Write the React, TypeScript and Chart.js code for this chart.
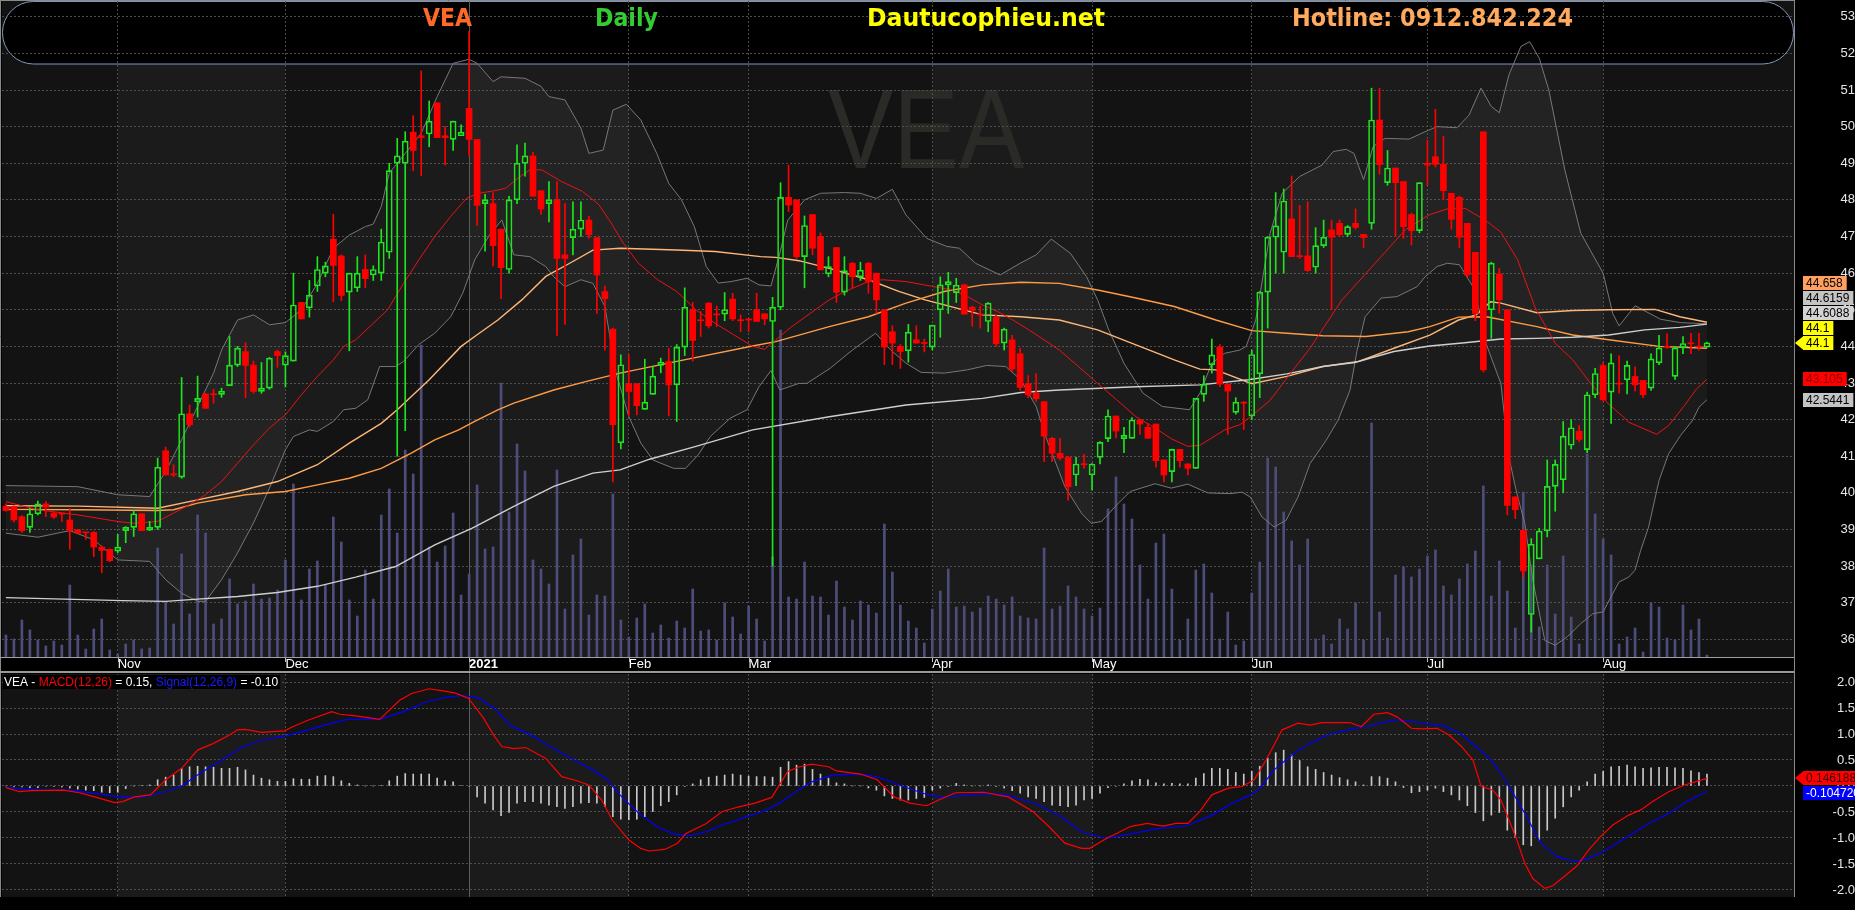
import React, { useEffect, useRef } from "react";
import { Chart, registerables } from "chart.js";

Chart.register(...registerables);

// ---------------- DATA ----------------
// daily candles, index 0 = 13 Oct 2020 ... index 213 = 19 Aug 2021
const openP = [
  39.63, 39.63, 39.35, 39.06, 39.43, 39.70, 39.45, 39.45, 39.26, 38.99,
  38.93, 38.92, 38.52, 38.46, 38.41, 38.97, 39.06, 39.43, 38.98, 39.06,
  41.15, 40.52, 40.43, 42.16, 42.49, 42.70, 42.70, 42.69, 42.93, 43.49,
  43.86, 43.49, 42.77, 42.86, 43.86, 43.49, 43.60, 45.20, 45.05, 45.65,
  46.00, 46.93, 46.47, 45.48, 45.60, 46.10, 45.95, 46.00, 46.57, 49.00,
  49.00, 49.85, 49.75, 49.80, 50.65, 49.75, 49.65, 49.75, 50.50, 49.65,
  47.90, 47.90, 47.20, 46.10, 48.00, 49.00, 49.20, 48.25, 47.90, 48.00,
  46.50, 46.97, 47.20, 47.45, 46.97, 45.50, 44.47, 41.37, 42.98, 42.98,
  42.28, 42.69, 43.48, 43.59, 42.95, 43.98, 45.00, 44.72, 45.18, 44.88,
  44.88, 45.29, 44.71, 44.73, 45.00, 44.89, 44.68, 45.07, 48.07, 48.00,
  46.45, 47.60, 47.00, 45.98, 46.70, 45.48, 46.27, 45.90, 46.27, 46.00,
  45.00, 44.40, 44.00, 43.88, 44.18, 44.10, 43.98, 45.00, 45.68, 45.47,
  45.68, 45.07, 44.88, 44.68, 44.79, 44.09, 44.18, 43.80, 42.98, 42.72,
  42.49, 41.49, 41.08, 40.97, 40.49, 40.79, 40.49, 40.97, 41.48, 42.10,
  41.48, 41.49, 41.99, 41.79, 41.88, 40.90, 40.58, 41.19, 40.79, 40.67,
  42.69, 43.50, 43.98, 42.97, 42.20, 42.47, 42.10, 43.25, 45.48, 46.98,
  46.57, 47.48, 46.47, 46.47, 46.16, 46.75, 47.18, 47.36, 47.06, 47.36,
  47.06, 47.36, 50.18, 48.47, 48.87, 48.50, 47.60, 47.16, 49.00, 49.18,
  48.97, 48.18, 48.07, 47.36, 46.57, 49.86, 45.00, 45.98, 45.00, 39.89,
  38.98, 36.68, 38.20, 38.96, 40.18, 40.36, 41.30, 41.68, 41.18, 42.68,
  43.48, 42.75, 42.98, 43.09, 43.18, 43.07, 42.86, 43.55, 44.00, 43.18,
  43.96, 44.08, 44.00, 43.98,
];
const highP = [
  39.70, 39.65, 39.38, 39.58, 39.78, 39.76, 39.47, 39.45, 39.58, 39.00,
  38.93, 38.95, 38.55, 38.47, 38.87, 39.08, 39.52, 39.43, 39.22, 40.95,
  41.25, 40.77, 43.15, 42.40, 43.19, 42.72, 42.83, 42.86, 44.27, 44.00,
  44.10, 43.60, 43.56, 43.70, 43.90, 43.85, 46.00, 45.20, 45.80, 46.45,
  46.30, 47.61, 46.50, 46.00, 46.45, 46.50, 46.20, 47.20, 49.00, 49.68,
  49.86, 50.30, 51.52, 50.70, 50.65, 50.00, 50.15, 50.05, 52.60, 49.65,
  48.15, 48.20, 47.20, 48.10, 49.50, 49.55, 49.30, 48.25, 48.50, 48.50,
  47.90, 47.95, 47.95, 47.55, 46.97, 45.65, 44.50, 43.77, 43.77, 42.98,
  43.65, 43.46, 43.68, 43.95, 44.05, 45.60, 45.20, 44.95, 45.20, 45.10,
  45.47, 45.45, 44.86, 44.77, 45.45, 44.89, 45.34, 48.47, 48.95, 48.00,
  47.56, 47.60, 47.10, 46.45, 46.70, 46.45, 46.30, 46.30, 46.30, 46.00,
  45.00, 44.56, 44.05, 44.60, 44.56, 44.20, 44.58, 45.90, 46.02, 45.86,
  45.70, 45.10, 45.10, 45.20, 44.86, 44.50, 44.30, 43.95, 43.20, 43.26,
  42.50, 41.52, 41.49, 41.00, 40.97, 41.05, 40.80, 41.40, 42.27, 42.10,
  41.79, 42.06, 41.99, 41.90, 41.88, 40.90, 41.20, 41.19, 40.80, 42.58,
  43.20, 44.20, 44.05, 42.97, 42.60, 42.50, 43.90, 45.50, 47.00, 48.20,
  48.30, 48.65, 47.85, 47.95, 47.24, 47.45, 47.45, 47.45, 47.30, 47.75,
  47.06, 51.05, 51.05, 49.35, 48.87, 48.50, 47.64, 48.47, 49.63, 50.47,
  49.74, 48.18, 48.10, 47.36, 46.57, 49.86, 46.30, 46.13, 45.00, 39.90,
  39.00, 38.75, 39.03, 40.90, 40.90, 41.95, 42.00, 41.84, 42.75, 43.40,
  43.55, 43.80, 43.75, 43.60, 43.44, 43.07, 43.80, 44.30, 44.35, 44.00,
  44.27, 44.36, 44.36, 44.12,
];
const lowP = [
  39.50, 39.20, 38.92, 38.92, 39.40, 39.35, 39.30, 39.22, 38.46, 38.88,
  38.73, 38.26, 37.82, 38.12, 38.37, 38.64, 38.81, 38.97, 38.97, 39.00,
  40.49, 40.44, 40.40, 41.80, 42.07, 42.30, 42.45, 42.61, 42.93, 43.45,
  42.60, 42.72, 42.72, 42.83, 43.43, 42.89, 43.60, 44.75, 44.80, 45.50,
  45.90, 45.22, 45.25, 43.88, 45.50, 45.60, 45.80, 45.80, 46.40, 41.00,
  41.70, 48.80, 48.66, 49.45, 49.70, 48.95, 49.35, 49.75, 49.20, 47.30,
  46.60, 46.20, 45.30, 46.00, 47.90, 48.65, 48.10, 47.60, 47.40, 44.30,
  44.60, 46.50, 47.00, 46.95, 44.90, 43.90, 40.30, 41.20, 42.10, 42.13,
  42.28, 42.69, 43.28, 42.10, 41.95, 43.75, 43.60, 44.27, 44.50, 44.54,
  44.70, 44.70, 44.40, 44.40, 44.68, 44.59, 38.00, 45.00, 47.68, 46.40,
  45.60, 46.50, 46.09, 45.90, 45.20, 45.40, 45.60, 45.80, 45.45, 44.90,
  43.50, 43.50, 43.40, 43.57, 44.09, 43.85, 43.90, 44.25, 44.90, 45.20,
  44.88, 44.55, 44.50, 44.40, 44.00, 43.90, 43.30, 42.80, 42.60, 42.50,
  40.85, 40.85, 40.90, 39.80, 40.20, 40.67, 40.08, 40.79, 41.40, 41.50,
  41.10, 41.49, 41.60, 41.49, 40.70, 40.30, 40.30, 40.70, 40.49, 40.67,
  42.50, 43.27, 42.90, 41.60, 42.15, 41.73, 42.00, 42.60, 44.50, 46.00,
  46.00, 46.45, 46.40, 46.05, 46.00, 46.70, 45.00, 47.00, 47.00, 47.20,
  46.70, 47.20, 48.70, 48.40, 47.00, 46.95, 46.77, 47.10, 48.40, 48.90,
  48.00, 47.20, 46.70, 45.90, 44.70, 43.30, 44.22, 44.90, 39.40, 39.30,
  37.70, 36.20, 38.20, 38.80, 39.50, 40.00, 41.20, 41.40, 41.10, 42.60,
  42.50, 41.90, 42.72, 42.70, 42.78, 42.60, 42.80, 43.50, 43.95, 43.10,
  43.80, 43.80, 43.90, 43.98,
];
const closeP = [
  39.52, 39.26, 38.97, 39.43, 39.70, 39.61, 39.34, 39.42, 38.97, 38.90,
  38.91, 38.52, 38.43, 38.15, 38.52, 39.06, 39.43, 38.97, 39.06, 40.70,
  40.49, 40.49, 42.16, 41.86, 42.58, 42.31, 42.68, 42.78, 43.49, 43.95,
  43.48, 42.77, 42.86, 43.68, 43.75, 43.75, 45.13, 44.75, 45.40, 46.10,
  46.20, 46.21, 45.39, 46.00, 46.00, 45.85, 46.10, 46.85, 48.80, 49.20,
  49.60, 49.35, 49.70, 50.15, 49.70, 49.70, 50.15, 49.85, 49.65, 47.85,
  48.00, 46.75, 46.15, 48.00, 49.00, 49.20, 48.10, 47.75, 48.00, 46.40,
  46.40, 47.20, 47.45, 47.05, 45.95, 45.30, 41.86, 43.50, 42.77, 42.38,
  42.48, 43.19, 43.57, 42.95, 43.98, 45.07, 44.16, 44.70, 44.56, 44.86,
  45.00, 44.75, 44.70, 44.72, 44.68, 44.75, 45.07, 48.07, 47.86, 46.45,
  47.30, 46.68, 46.09, 46.18, 45.48, 46.07, 45.90, 46.08, 45.77, 45.27,
  43.98, 44.09, 43.86, 44.39, 44.09, 44.08, 44.58, 45.68, 45.77, 45.67,
  44.88, 44.98, 44.86, 45.18, 44.07, 44.47, 43.38, 42.88, 42.68, 42.57,
  41.55, 41.08, 40.95, 40.17, 40.79, 40.77, 40.79, 41.38, 42.10, 41.69,
  41.57, 41.99, 41.88, 41.49, 40.88, 40.49, 41.19, 40.88, 40.67, 42.58,
  42.97, 43.77, 42.97, 42.78, 42.48, 42.45, 43.78, 45.48, 46.98, 47.29,
  47.97, 46.45, 46.45, 46.07, 46.75, 46.98, 46.98, 47.05, 47.27, 47.25,
  46.97, 50.18, 48.96, 48.87, 48.47, 47.27, 47.16, 48.47, 48.95, 48.97,
  48.25, 47.47, 46.98, 45.95, 44.90, 43.36, 46.27, 45.27, 39.66, 39.54,
  37.87, 38.60, 38.96, 40.18, 40.78, 41.55, 41.78, 41.46, 42.68, 43.26,
  42.54, 43.55, 42.97, 43.48, 42.95, 42.68, 43.66, 43.96, 43.98, 43.96,
  44.08, 44.07, 43.98, 44.10,
];
// volume in 10k shares
const volume = [
  22, 18, 37, 27, 17, 11, 16, 12, 72, 22, 8, 28, 38, 7, 3, 13, 17, 8, 9, 109,
  55, 33, 103, 43, 142, 124, 33, 38, 78, 53, 56, 73, 58, 59, 67, 97, 173, 57, 88, 96,
  72, 140, 115, 57, 41, 87, 58, 142, 168, 124, 207, 183, 312, 110, 95, 111, 144, 62, 83, 172,
  108, 110, 274, 145, 213, 186, 97, 88, 73, 187, 48, 102, 118, 42, 62, 61, 163, 37, 20, 39,
  53, 24, 32, 19, 36, 29, 68, 26, 27, 17, 54, 40, 23, 51, 38, 16, 100, 327, 60, 58,
  95, 61, 60, 42, 76, 50, 37, 56, 52, 44, 133, 85, 52, 36, 29, 14, 48, 66, 88, 50,
  51, 45, 49, 61, 58, 52, 60, 41, 39, 38, 109, 48, 51, 71, 60, 48, 41, 49, 148, 180,
  153, 138, 92, 58, 114, 123, 68, 17, 38, 87, 93, 64, 18, 45, 12, 16, 64, 95, 199, 190,
  145, 116, 92, 118, 18, 22, 13, 38, 28, 54, 17, 234, 45, 19, 82, 90, 80, 88, 101, 107,
  71, 62, 78, 93, 106, 171, 61, 96, 66, 29, 165, 92, 30, 92, 43, 101, 40, 13, 203, 143,
  118, 102, 13, 20, 29, 5, 54, 50, 19, 17, 52, 27, 38, 2,
];
const macdHist = [
  0.0, -0.02, -0.02, -0.03, -0.03, -0.01, -0.01, -0.02, -0.04, -0.06,
  -0.08, -0.09, -0.12, -0.13, -0.12, -0.05, 0.0, 0.01, 0.02, 0.12,
  0.17, 0.21, 0.34, 0.37, 0.38, 0.37, 0.36, 0.34, 0.34, 0.36,
  0.31, 0.21, 0.15, 0.12, 0.09, 0.09, 0.14, 0.13, 0.13, 0.19,
  0.2, 0.18, 0.1, 0.05, 0.02, 0.0, 0.0, 0.01, 0.1, 0.19,
  0.24, 0.23, 0.23, 0.23, 0.15, 0.1, 0.08, 0.01, -0.01, -0.21,
  -0.33, -0.46, -0.57, -0.51, -0.33, -0.3, -0.3, -0.33, -0.37, -0.4,
  -0.43, -0.4, -0.33, -0.32, -0.33, -0.4, -0.59, -0.64, -0.65, -0.64,
  -0.59, -0.49, -0.38, -0.3, -0.17, -0.01, 0.04, 0.12, 0.17, 0.19,
  0.21, 0.23, 0.21, 0.19, 0.18, 0.18, 0.17, 0.36, 0.47, 0.4,
  0.42, 0.32, 0.23, 0.15, 0.06, 0.04, 0.0, 0.0, -0.04, -0.08,
  -0.19, -0.24, -0.27, -0.27, -0.24, -0.22, -0.08, -0.04, -0.01, 0.05,
  0.02, 0.0, 0.0, 0.02, -0.01, -0.04, -0.09, -0.14, -0.21, -0.24,
  -0.3, -0.37, -0.38, -0.4, -0.37, -0.27, -0.24, -0.14, -0.03, -0.01,
  0.04, 0.1, 0.13, 0.12, 0.06, 0.04, 0.05, 0.04, 0.04, 0.15,
  0.24, 0.34, 0.34, 0.32, 0.26, 0.23, 0.28, 0.38, 0.54, 0.64,
  0.69, 0.6, 0.49, 0.37, 0.32, 0.26, 0.21, 0.16, 0.12, 0.08,
  0.02, 0.18, 0.18, 0.15, 0.08, -0.03, -0.13, -0.11, -0.08, -0.04,
  -0.11, -0.17, -0.27, -0.38, -0.51, -0.67, -0.56, -0.51, -0.85, -0.99,
  -1.13, -1.15, -1.04, -0.85, -0.62, -0.4, -0.21, -0.08, 0.08, 0.23,
  0.28, 0.37, 0.38, 0.4, 0.37, 0.34, 0.35, 0.36, 0.36, 0.35,
  0.34, 0.29, 0.26, 0.23,
];

type Pt = [number, number];
// indicator lines read at sample points: [candle index, value]
const bbUpper: Pt[] = [
  [0, 40.2], [9, 40.17], [14, 39.95], [18, 39.9], [20, 40.58], [22, 41.45], [24, 42.36], [26, 43.27], [27, 43.9], [29, 44.72],
  [31, 44.86], [33, 44.59], [35, 44.65], [37, 45.0], [39, 45.72], [41, 46.68], [43, 47.04], [45, 47.27], [46, 47.34], [47, 47.82],
  [48, 48.73], [50, 49.27], [52, 49.82], [54, 50.82], [56, 51.73], [58, 51.84], [59, 51.73], [61, 51.23], [62, 51.36], [65, 51.32],
  [67, 51.1], [68, 50.82], [70, 50.73], [72, 49.96], [73, 49.27], [74.8, 49.36], [76, 50.45], [77.7, 50.61], [79.5, 50.18], [81.5, 49.27],
  [83, 48.45], [84.6, 48.0], [86.2, 47.27], [87.7, 46.18], [89.2, 45.73], [90.8, 45.77], [92.8, 45.86], [94.3, 45.68], [95.8, 45.65], [96.9, 46.54],
  [97.9, 47.45], [100, 48.0], [102, 48.18], [105, 48.2], [107, 48.18], [109, 48.04], [111, 48.29], [112.7, 47.59], [115.3, 46.95], [117.8, 46.73],
  [119.4, 46.68], [121.4, 46.27], [124.5, 45.95], [127, 46.27], [129, 46.5], [130.9, 46.93], [133.3, 46.54], [135.3, 45.91], [136.7, 45.27], [138.1, 44.45],
  [140, 43.54], [142.4, 42.72], [144.8, 42.36], [148.2, 42.27], [149.5, 42.72], [151, 43.54], [152.6, 43.81], [154.5, 43.9], [155.3, 44.0], [156.5, 44.72],
  [158.3, 47.09], [159.8, 48.18], [162, 48.64], [164.8, 48.95], [166.2, 49.32], [167.8, 49.38], [168.8, 49.27], [170, 48.55], [171.2, 49.46], [172.7, 49.68],
  [175.7, 49.66], [177.7, 49.86], [179.2, 50.0], [181.7, 49.97], [183.2, 50.31], [184.7, 51.05], [186, 50.55], [187, 50.38], [188.2, 51.41], [189.7, 52.19],
  [190.8, 52.32], [192, 51.87], [193.2, 51.0], [195.2, 48.82], [197.2, 47.09], [200, 46.0], [201.2, 44.9], [202, 44.56], [204, 45.11], [207.2, 44.74],
  [209.7, 44.65], [213, 44.6159],
];
const bbLower: Pt[] = [
  [0, 38.9], [4, 38.79], [8, 38.97], [11, 38.72], [14, 38.17], [18, 38.13], [20, 37.63], [22, 37.26], [24, 37.04], [25, 37.04],
  [27, 37.63], [29, 38.36], [31, 39.18], [33, 40.13], [35, 41.18], [36, 41.54], [38, 41.72], [39, 41.68], [41, 41.95], [42.3, 42.27],
  [43.8, 42.31], [45.3, 42.54], [46.8, 43.45], [48.8, 43.45], [49.8, 43.59], [51.7, 44.05], [53.7, 44.36], [55.7, 44.81], [57.2, 45.45], [58.7, 46.36],
  [59.7, 46.73], [60.7, 47.09], [62.1, 47.45], [63.6, 46.5], [65.6, 46.45], [67.6, 46.18], [68.6, 45.9], [70, 45.63], [72, 45.82], [73.5, 45.72],
  [75, 45.09], [76.4, 43.27], [78, 42.08], [79.5, 41.36], [81, 40.9], [83.6, 40.67], [85.1, 40.67], [86.7, 41.04], [88.2, 41.54], [90.7, 42.04],
  [92.8, 42.27], [94.3, 42.9], [95.8, 43.34], [96.9, 42.81], [99.3, 42.99], [100.3, 42.99], [103.2, 43.4], [106, 43.9], [108.9, 44.36], [110.8, 43.9],
  [112.7, 43.54], [114.6, 43.29], [117.5, 43.27], [120.4, 43.36], [122.8, 43.48], [125.2, 43.45], [127.1, 43.08], [129, 42.36], [130.2, 41.54], [132.6, 40.17],
  [134.7, 39.44], [135.9, 39.17], [137.2, 39.22], [139.3, 39.72], [140.8, 40.04], [143.9, 40.25], [145.9, 40.13], [148, 40.24], [150.5, 40.0], [153.3, 39.98],
  [154.8, 40.02], [155.8, 39.89], [157.3, 39.34], [158.8, 39.07], [160.3, 39.25], [161.8, 39.89], [163.3, 40.8], [165.3, 41.43], [166.8, 41.98], [168.3, 42.8],
  [169.2, 43.9], [170.2, 44.81], [172.2, 45.32], [174.2, 45.36], [176.7, 45.63], [177.7, 45.9], [179.2, 46.18], [180.5, 46.27], [182, 46.23], [183.7, 45.63],
  [184.7, 44.81], [185.2, 44.16], [187.2, 42.98], [188.2, 40.98], [189.2, 39.98], [190.2, 39.16], [191.2, 37.61], [192.7, 35.97], [194, 35.84], [195.5, 36.07],
  [197.2, 36.43], [198.7, 36.7], [200, 36.75], [201.2, 37.25], [202, 37.57], [203.2, 37.7], [204, 37.89], [204.7, 38.43], [205.7, 39.07], [207, 40.34],
  [208.2, 41.07], [209.7, 41.57], [211.2, 41.98], [212, 42.34], [213, 42.5441],
];
const ma20: Pt[] = [
  [0, 39.76], [4, 39.54], [9, 39.4], [14, 39.22], [16, 39.17], [19, 39.22], [21, 39.45], [23, 39.68], [25, 39.95], [27, 40.31],
  [29, 40.81], [31, 41.31], [33, 41.77], [35, 42.13], [37, 42.68], [39, 43.18], [41, 43.63], [42.3, 44.0], [43.8, 44.18], [45.8, 44.59],
  [47.8, 45.0], [48.8, 45.36], [49.8, 45.72], [51.7, 46.36], [53.7, 47.0], [55.7, 47.55], [57.7, 48.05], [59.2, 48.18], [61.2, 48.25], [62.6, 48.32],
  [64.1, 48.59], [65.6, 48.82], [67.1, 48.82], [69.6, 48.5], [72.2, 48.23], [74.2, 47.88], [75.7, 47.4], [77.3, 46.82], [79.2, 46.27], [81.6, 45.82],
  [84, 45.5], [86.4, 45.0], [88.8, 44.63], [91.2, 44.31], [93.5, 44.0], [95, 43.92], [96.4, 44.18], [98.4, 44.54], [100.7, 44.9], [103.1, 45.27],
  [105.1, 45.5], [108, 45.77], [109.8, 45.82], [112.7, 45.77], [118.5, 45.54], [120.4, 45.36], [122.3, 45.13], [124.2, 44.95], [126.1, 44.72], [128.1, 44.45],
  [130, 44.18], [131.9, 43.9], [134.3, 43.45], [136.7, 42.99], [139.1, 42.54], [141.5, 42.08], [143.9, 41.77], [146, 41.47], [148, 41.27], [149.5, 41.3],
  [152.6, 41.72], [154.5, 41.86], [155.8, 42.07], [158.3, 42.53], [160.8, 43.25], [163.3, 43.95], [167.3, 45.27], [172.2, 46.45], [175.2, 47.18], [178.2, 47.59],
  [180.7, 47.77], [182.7, 47.77], [185.2, 47.45], [187.2, 47.12], [189.3, 46.36], [191.5, 45.05], [194, 44.09], [196.2, 43.63], [198.4, 43.0], [200.7, 42.42],
  [202.5, 42.08], [203.2, 41.93], [206.7, 41.6], [208.2, 41.84], [210.2, 42.39], [211.7, 42.84], [213, 43.105],
];
const ma50: Pt[] = [
  [0, 39.65], [9, 39.64], [19, 39.58], [24, 39.81], [29, 40.04], [34, 40.31], [39, 40.77], [43, 41.36], [47, 41.9], [49, 42.27],
  [53, 43.09], [57, 44.0], [58.7, 44.27], [61.6, 44.72], [64.6, 45.27], [67.6, 45.91], [70.6, 46.27], [73.5, 46.63], [76.9, 46.68], [84, 46.63],
  [88.8, 46.59], [94.5, 46.45], [96.4, 46.43], [99.3, 46.34], [103.1, 46.13], [108, 45.82], [111.8, 45.5], [115.1, 45.27], [122.3, 44.86], [127.1, 44.81],
  [131.9, 44.72], [136.7, 44.45], [141.5, 44.04], [146.3, 43.63], [149.5, 43.38], [151.5, 43.36], [156, 42.98], [160.4, 43.18], [164.9, 43.45], [169.4, 43.59],
  [173.8, 43.95], [178.3, 44.31], [181.9, 44.72], [184.1, 44.86], [185.9, 45.22], [187.2, 45.18], [191.7, 44.92], [196.2, 44.98], [200.7, 45.0], [206.5, 45.01],
  [209.6, 44.81], [213, 44.658],
];
const ma100: Pt[] = [
  [0, 39.55], [9, 39.54], [19, 39.52], [21, 39.54], [24, 39.72], [30, 39.95], [35, 40.04], [39, 40.22], [43, 40.4], [47, 40.67],
  [50.7, 41.08], [53.7, 41.45], [56.7, 41.72], [58.7, 41.95], [61.6, 42.27], [63.6, 42.45], [68.6, 42.81], [72.6, 43.04], [76.9, 43.27], [84, 43.59],
  [93.5, 44.01], [96.4, 44.13], [103.1, 44.54], [108, 44.81], [112.7, 45.18], [117.5, 45.5], [122.3, 45.68], [127.1, 45.75], [131.9, 45.72], [136.7, 45.54],
  [141.5, 45.32], [146.3, 45.09], [151.5, 44.72], [156, 44.43], [160.4, 44.36], [164.9, 44.29], [170.3, 44.27], [175.6, 44.4], [178.3, 44.54], [181.9, 44.8],
  [185.4, 44.81], [191.7, 44.54], [196.2, 44.31], [200.7, 44.18], [207, 44.0], [213, 43.95],
];
const ma200: Pt[] = [
  [0, 37.14], [14.6, 37.06], [20, 37.04], [24, 37.1], [29, 37.17], [34, 37.28], [39, 37.45], [43.8, 37.7], [48.8, 37.99], [53.7, 38.58],
  [58.4, 39.04], [63.6, 39.63], [68.6, 40.18], [73.5, 40.54], [76.9, 40.63], [80.6, 40.92], [86.4, 41.27], [93.5, 41.72], [103.1, 42.08], [112.7, 42.4],
  [122.3, 42.58], [127.1, 42.74], [131.9, 42.81], [141.5, 42.9], [149.5, 42.95], [155.6, 43.09], [160.4, 43.25], [164.9, 43.45], [168.9, 43.56], [173.8, 43.86],
  [178.3, 44.01], [182.7, 44.1], [187.2, 44.2], [191.7, 44.22], [196.2, 44.25], [200.7, 44.31], [205.2, 44.45], [209.6, 44.52], [213, 44.6088],
];
const macdLine: Pt[] = [
  [0, -0.03], [1.7, -0.11], [3.2, -0.09], [7.2, -0.08], [9.2, -0.13], [11.1, -0.21], [13.6, -0.32], [14.6, -0.3], [16.1, -0.21], [18.1, -0.17],
  [20, 0.12], [22, 0.34], [24, 0.69], [26, 0.82], [28, 0.98], [29, 1.08], [30, 1.09], [32, 1.03], [34.9, 1.06], [35.9, 1.14],
  [37.9, 1.27], [40.8, 1.43], [41.8, 1.38], [43.8, 1.35], [46.8, 1.28], [49.3, 1.65], [50.8, 1.78], [53, 1.87], [54.7, 1.83], [56.2, 1.79],
  [57.9, 1.69], [59.7, 1.33], [61.2, 0.95], [62.1, 0.76], [63.6, 0.72], [65.1, 0.74], [67.6, 0.53], [69.6, 0.18], [71.5, 0.1], [73, 0.02],
  [74.6, -0.27], [75.9, -0.65], [78, -1.04], [79.5, -1.2], [80.5, -1.25], [82.5, -1.22], [84.1, -1.1], [85.1, -0.92], [87.7, -0.72], [89.7, -0.49],
  [91.8, -0.4], [93.8, -0.33], [95.9, -0.22], [97.9, 0.28], [99.4, 0.37], [100.9, 0.42], [103, 0.37], [104, 0.29], [107, 0.23], [109.1, 0.12],
  [111.2, -0.21], [113.2, -0.33], [115.3, -0.38], [116.8, -0.27], [118.9, -0.13], [122.4, -0.12], [125.5, -0.21], [128.6, -0.49], [130.6, -0.78], [132.6, -1.1],
  [134.7, -1.2], [135.7, -1.2], [137.8, -1.01], [140.8, -0.78], [142.9, -0.72], [144.9, -0.77], [146.5, -0.72], [148, -0.72], [149.5, -0.49], [151, -0.17],
  [153.1, -0.04], [154.8, -0.01], [156.3, 0.12], [157.8, 0.5], [159.8, 1.08], [161.8, 1.21], [163.3, 1.17], [164.8, 1.22], [168.3, 1.22], [169.7, 1.14],
  [171.3, 1.38], [173, 1.41], [174.2, 1.33], [176, 1.11], [177.2, 1.1], [179.2, 1.11], [180.7, 0.98], [182.2, 0.77], [183.7, 0.5], [184.7, 0.0],
  [186.2, -0.08], [187.2, -0.27], [188.2, -0.65], [189.2, -1.04], [190.2, -1.49], [191.2, -1.78], [192.7, -1.97], [193.7, -1.92], [195.2, -1.73], [196.7, -1.54],
  [198.2, -1.23], [199.7, -0.97], [201.2, -0.75], [203.2, -0.56], [204.7, -0.46], [206.2, -0.3], [208.2, -0.11], [210.2, 0.02], [213, 0.146188],
];
const signalLine: Pt[] = [
  [0, -0.03], [4.5, -0.08], [7.9, -0.08], [11.6, -0.15], [14.6, -0.22], [17.1, -0.21], [20, -0.11], [22, 0.0], [24, 0.21], [27, 0.5],
  [29.5, 0.74], [32, 0.88], [34.9, 0.96], [37.9, 1.08], [40.8, 1.21], [42.8, 1.28], [46.8, 1.28], [49.8, 1.43], [52.7, 1.62], [55.2, 1.71],
  [57.2, 1.74], [59.2, 1.69], [61.2, 1.49], [63.1, 1.17], [66.1, 0.95], [68.6, 0.72], [71.1, 0.5], [73.5, 0.31], [75.1, 0.15], [76.9, -0.17],
  [77.5, -0.27], [79.5, -0.56], [81.5, -0.78], [83.6, -0.92], [85.6, -0.96], [87.7, -0.88], [89.7, -0.75], [92.8, -0.59], [94.8, -0.49], [96.9, -0.33],
  [98.9, -0.11], [100.9, 0.08], [103.5, 0.21], [106, 0.23], [108.1, 0.21], [110.2, 0.12], [112.2, 0.0], [114.8, -0.14], [116.8, -0.21], [119.4, -0.19],
  [122.4, -0.15], [125, -0.16], [129.1, -0.35], [132.1, -0.59], [134.7, -0.88], [137.8, -1.01], [140.8, -0.92], [143.9, -0.83], [148, -0.76], [151, -0.56],
  [153.3, -0.35], [155.3, -0.21], [156.8, -0.09], [158.8, 0.31], [161.3, 0.63], [163.3, 0.82], [165.8, 1.0], [168.3, 1.09], [170.3, 1.14], [172.2, 1.21],
  [174, 1.27], [175.7, 1.25], [178.2, 1.19], [180.2, 1.15], [182.2, 1.0], [184.2, 0.74], [186.2, 0.47], [188.2, 0.0], [190.2, -0.53], [192.2, -1.1],
  [194.2, -1.36], [196.2, -1.44], [197.7, -1.42], [199.7, -1.29], [202.7, -1.01], [205.7, -0.72], [208.2, -0.53], [210.7, -0.28], [213, -0.10472],
];

// month axis
const monthStarts = [14, 35, 58, 78, 93, 116, 136, 156, 178, 200];
const monthLabels = ["Nov", "Dec", "2021", "Feb", "Mar", "Apr", "May", "Jun", "Jul", "Aug"];
const yearStart = 58;
const shadeStarts = [0, 14, 35, 58, 78, 93, 116, 136, 156, 178, 200];
const shadeLight = [false, true, false, true, false, false, true, false, true, true, false];

// value tags on the right axes
const priceTagValues = [44.658, 44.6159, 44.6088, 44.1, 44.1, 43.105, 42.5441];
const priceTagBg = ["#ffa060", "#c4c4c4", "#d4d4d4", "#ffff00", "#ffff00", "#ff0000", "#c4c4c4"];
const priceTagFg = ["#000000", "#000000", "#000000", "#000000", "#000000", "#8a0000", "#000000"];
const priceTagAnchor = 4;
const macdTagValues = [0.146188, -0.10472];
const macdTagLabels = ["0.146188", "-0.104720"];
const macdTagBg = ["#ff0000", "#0000ff"];
const macdTagFg = ["#3a0000", "#ffffff"];

// ---------------- presentation ----------------
const FONT = "'Liberation Sans', Arial, 'DejaVu Sans', sans-serif";
const TITLE_FONT = "'DejaVu Sans', 'Liberation Sans', sans-serif";
const W = 1855;
const MAIN_H = 673;
const MACD_H = 237;
const AXIS_W = 61;
const X_MIN = -0.49;
const X_MAX = 223.9;
const P_MIN = 35.52;
const P_MAX = 53.43;
const M_MIN = -2.135;
const M_MAX = 2.154;
const V_MAX = 656;
const GREEN = "#1ee61e";
const RED = "#ff0000";
const GRID = "#4e4e4e";

const pts = (a: Pt[]) => a.map(([x, y]) => ({ x, y }));
const isUp = (i: number) => closeP[i] > openP[i];
const idx = closeP.map((_, i) => i);

function paintMonths(ctx: CanvasRenderingContext2D, xs: any, a: any) {
  for (let k = 0; k < shadeStarts.length; k++) {
    const x0 = k === 0 ? a.left : xs.getPixelForValue(shadeStarts[k]);
    const x1 = k === shadeStarts.length - 1 ? a.right : xs.getPixelForValue(shadeStarts[k + 1]);
    ctx.fillStyle = shadeLight[k] ? "#1b1b1b" : "#131313";
    ctx.fillRect(x0, a.top, x1 - x0, a.bottom - a.top);
  }
}

function monthTicks(axis: any) {
  axis.ticks = monthStarts.map((v) => ({ value: v }));
}

function drawTags(
  ctx: CanvasRenderingContext2D, scale: any, values: number[], labels: string[],
  bgs: string[], fgs: string[], anchor: number, left: number
) {
  const H = 14;
  const GAP = 15;
  const want = values.map((v) => scale.getPixelForValue(v));
  const pos = want.slice();
  const rest = values.map((_, k) => k).filter((k) => k !== anchor);
  const above = rest.filter((k) => values[k] >= values[anchor]).sort((a, b) => values[a] - values[b] || b - a);
  const below = rest.filter((k) => values[k] < values[anchor]).sort((a, b) => values[b] - values[a]);
  let prev = pos[anchor];
  for (const k of above) { pos[k] = Math.min(want[k], prev - GAP); prev = pos[k]; }
  prev = pos[anchor];
  for (const k of below) { pos[k] = Math.max(want[k], prev + GAP); prev = pos[k]; }
  ctx.save();
  ctx.font = `12px ${FONT}`;
  ctx.textBaseline = "middle";
  ctx.textAlign = "left";
  values.forEach((_, k) => {
    const y = Math.round(pos[k]);
    const w = ctx.measureText(labels[k]).width;
    const bx = left + 9;
    ctx.fillStyle = bgs[k];
    ctx.fillRect(bx, y - H / 2, w + 7, H);
    if (k === anchor) {
      ctx.beginPath();
      ctx.moveTo(bx + 0.5, y - H / 2);
      ctx.lineTo(left + 1, y);
      ctx.lineTo(bx + 0.5, y + H / 2);
      ctx.closePath();
      ctx.fill();
    }
    ctx.fillStyle = fgs[k];
    ctx.fillText(labels[k], bx + 3, y + 0.5);
  });
  ctx.restore();
}

function hline(ctx: CanvasRenderingContext2D, x0: number, x1: number, y: number) {
  ctx.beginPath(); ctx.moveTo(x0, y); ctx.lineTo(x1, y); ctx.stroke();
}
function vline(ctx: CanvasRenderingContext2D, x: number, y0: number, y1: number) {
  ctx.beginPath(); ctx.moveTo(x, y0); ctx.lineTo(x, y1); ctx.stroke();
}

const mainDecor = {
  id: "mainDecor",
  beforeDraw(chart: any) {
    const { ctx, chartArea: a } = chart;
    const xs = chart.scales.x;
    ctx.save();
    ctx.fillStyle = "#000";
    ctx.fillRect(0, 0, chart.width, chart.height);
    paintMonths(ctx, xs, a);
    // header band
    ctx.beginPath();
    const bx = a.left + 0.5, by = 1.5, bw = a.right - a.left - 1, bh = 62.5;
    if ((ctx as any).roundRect) (ctx as any).roundRect(bx, by, bw, bh, 31);
    else ctx.rect(bx, by, bw, bh);
    ctx.fillStyle = "#000";
    ctx.fill();
    ctx.strokeStyle = "#8198bb";
    ctx.lineWidth = 1;
    ctx.stroke();
    // watermark
    ctx.font = `113px ${FONT}`;
    ctx.fillStyle = "#2a2a27";
    ctx.textAlign = "left";
    ctx.textBaseline = "alphabetic";
    ctx.fillText("VEA", 828, 168, 196);
    ctx.restore();
  },
  beforeDatasetsDraw(chart: any) {
    const { ctx, chartArea: a } = chart;
    const px = Math.round(chart.scales.x.getPixelForValue(yearStart)) + 0.5;
    ctx.save();
    ctx.strokeStyle = "#5c5c5c";
    ctx.lineWidth = 1;
    vline(ctx, px, 1, a.bottom + 15);
    ctx.restore();
  },
  afterDraw(chart: any) {
    const { ctx, chartArea: a } = chart;
    const xs = chart.scales.x;
    ctx.save();
    // header texts
    ctx.font = `bold 24px ${TITLE_FONT}`;
    ctx.textBaseline = "alphabetic";
    ctx.textAlign = "left";
    const titles: [string, string, number, number][] = [
      ["VEA", "#ff6a28", 423, 49],
      ["Daily", "#33cc33", 595, 63],
      ["Dautucophieu.net", "#ffff00", 867, 238],
      ["Hotline: 0912.842.224", "#ffaa5e", 1292, 281],
    ];
    for (const [t, c, x, mw] of titles) {
      ctx.fillStyle = c;
      ctx.fillText(t, x, 26, mw);
    }
    // frame
    ctx.lineWidth = 1;
    ctx.strokeStyle = "#8a8a8a";
    hline(ctx, 0, a.right, 0.5);
    vline(ctx, 0.5, 0, chart.height);
    vline(ctx, a.right + 0.5, 0, chart.height);
    ctx.strokeStyle = "#a0a0a0";
    hline(ctx, 0, a.right, a.bottom + 0.5);
    ctx.lineWidth = 2;
    ctx.strokeStyle = "#9a9a9a";
    hline(ctx, 0, a.right, chart.height - 1);
    // month tick marks
    ctx.lineWidth = 1;
    ctx.strokeStyle = "#c0c0c0";
    for (const m of monthStarts) {
      const px = Math.round(xs.getPixelForValue(m)) + 0.5;
      vline(ctx, px, a.bottom + 1, a.bottom + 5);
    }
    ctx.restore();
    drawTags(ctx, chart.scales.y, priceTagValues, priceTagValues.map((v) => String(v)),
      priceTagBg, priceTagFg, priceTagAnchor, a.right);
  },
};

const macdDecor = {
  id: "macdDecor",
  beforeDraw(chart: any) {
    const { ctx, chartArea: a } = chart;
    ctx.save();
    ctx.fillStyle = "#000";
    ctx.fillRect(0, 0, chart.width, chart.height);
    paintMonths(ctx, chart.scales.x, a);
    ctx.restore();
  },
  beforeDatasetsDraw(chart: any) {
    const { ctx, chartArea: a } = chart;
    const px = Math.round(chart.scales.x.getPixelForValue(yearStart)) + 0.5;
    ctx.save();
    ctx.strokeStyle = "#5c5c5c";
    ctx.lineWidth = 1;
    vline(ctx, px, 0, a.bottom);
    ctx.restore();
  },
  afterDraw(chart: any) {
    const { ctx, chartArea: a } = chart;
    ctx.save();
    ctx.lineWidth = 1;
    ctx.strokeStyle = "#8a8a8a";
    vline(ctx, 0.5, 0, a.bottom);
    vline(ctx, a.right + 0.5, 0, a.bottom);
    // legend
    const lastM = macdLine[macdLine.length - 1][1];
    const lastS = signalLine[signalLine.length - 1][1];
    const parts: [string, string][] = [
      ["VEA - ", "#ffffff"],
      ["MACD(12,26)", "#ff0000"],
      [` = ${lastM.toFixed(2)}, `, "#ffffff"],
      ["Signal(12,26,9)", "#1a1aff"],
      [` = ${lastS.toFixed(2)}`, "#ffffff"],
    ];
    ctx.font = `12px ${FONT}`;
    ctx.textBaseline = "middle";
    ctx.textAlign = "left";
    const total = parts.reduce((s, p) => s + ctx.measureText(p[0]).width, 0);
    ctx.fillStyle = "#000";
    ctx.fillRect(3, 2, total + 3, 14);
    let x = 4;
    for (const [t, c] of parts) {
      ctx.fillStyle = c;
      ctx.fillText(t, x, 9.5);
      x += ctx.measureText(t).width;
    }
    ctx.restore();
    drawTags(ctx, chart.scales.y, macdTagValues, macdTagLabels, macdTagBg, macdTagFg, 0, a.right);
  },
};

function xAxis(showLabels: boolean): any {
  return {
    type: "linear",
    position: "bottom",
    min: X_MIN,
    max: X_MAX,
    offset: false,
    afterBuildTicks: monthTicks,
    ticks: {
      display: showLabels,
      autoSkip: false,
      maxRotation: 0,
      minRotation: 0,
      align: "start",
      padding: 0,
      color: "#ffffff",
      callback: (_v: any, i: number) => monthLabels[i] ?? "",
      font: (c: any) => ({ family: FONT, size: 13, weight: monthLabels[c.index] === "2021" ? "bold" : "normal" }),
    },
    grid: { color: GRID, drawTicks: false, offset: false, lineWidth: 1 },
    border: { display: false, dash: [2, 2] },
    afterFit: (s: any) => {
      s.height = showLabels ? 16 : 0;
      s.paddingLeft = 0; s.paddingRight = 0; s.paddingTop = 0; s.paddingBottom = 0;
    },
  };
}

function yAxis(min: number, max: number, step: number, pad: number, fmt?: (v: number) => string): any {
  return {
    type: "linear",
    position: "right",
    min,
    max,
    ticks: {
      stepSize: step, includeBounds: false, color: "#e6e6e6",
      font: { family: FONT, size: 13 }, crossAlign: "far", padding: pad,
      ...(fmt ? { callback: (v: any) => fmt(Number(v)) } : {}),
    },
    grid: { color: GRID, drawTicks: false },
    border: { display: false, dash: [2, 2] },
    afterFit: (s: any) => {
      s.width = AXIS_W;
      s.paddingTop = 0; s.paddingBottom = 0; s.paddingLeft = 0; s.paddingRight = 0;
    },
  };
}

function mainConfig(): any {
  return {
    type: "line",
    data: {
      datasets: [
        { label: "BB upper", data: pts(bbUpper), borderColor: "#777777", borderWidth: 1, pointRadius: 0, order: 8 },
        {
          label: "BB lower", data: pts(bbLower), borderColor: "#777777", borderWidth: 1, pointRadius: 0, order: 8,
          fill: "-1", backgroundColor: "rgba(255,255,255,0.035)",
        },
        { label: "MA200", data: pts(ma200), borderColor: "#cfcfcf", borderWidth: 1.4, pointRadius: 0, order: 6 },
        { label: "MA100", data: pts(ma100), borderColor: "#ff9c45", borderWidth: 1.4, pointRadius: 0, order: 6 },
        { label: "MA50", data: pts(ma50), borderColor: "#ffb677", borderWidth: 1.4, pointRadius: 0, order: 6 },
        { label: "MA20", data: pts(ma20), borderColor: "#ee1111", borderWidth: 1, pointRadius: 0, order: 5 },
        {
          type: "bar", label: "Volume", yAxisID: "yv", order: 10, grouped: false, barThickness: 2,
          data: volume.map((v, i) => ({ x: i, y: v })), backgroundColor: "#4d4d7c",
        },
        {
          type: "bar", label: "Upper wick", order: 2, grouped: false, barThickness: 1,
          data: idx.map((i) => ({ x: i, y: [Math.max(openP[i], closeP[i]), highP[i]] })),
          backgroundColor: (c: any) => (isUp(c.dataIndex) ? GREEN : RED),
        },
        {
          type: "bar", label: "Lower wick", order: 2, grouped: false, barThickness: 1,
          data: idx.map((i) => ({ x: i, y: [lowP[i], Math.min(openP[i], closeP[i])] })),
          backgroundColor: (c: any) => (isUp(c.dataIndex) ? GREEN : RED),
        },
        {
          type: "bar", label: "Down", order: 1, grouped: false, barThickness: 6, minBarLength: 1,
          data: idx.filter((i) => !isUp(i)).map((i) => ({ x: i, y: [openP[i], closeP[i]] })),
          backgroundColor: RED, borderWidth: 0,
        },
        {
          type: "bar", label: "Up", order: 1, grouped: false, barThickness: 6, minBarLength: 1,
          data: idx.filter((i) => isUp(i)).map((i) => ({ x: i, y: [openP[i], closeP[i]] })),
          backgroundColor: "rgba(0,0,0,0)", borderColor: GREEN, borderWidth: 1, borderSkipped: false,
        },
      ],
    },
    options: {
      responsive: false,
      animation: false,
      events: [],
      layout: { autoPadding: false, padding: { left: 2, top: 1, right: 0, bottom: 0 } },
      plugins: {
        legend: { display: false },
        tooltip: { enabled: false },
        filler: { drawTime: "beforeDatasetsDraw" },
      },
      scales: {
        x: xAxis(true),
        y: yAxis(P_MIN, P_MAX, 1, 42),
        yv: { type: "linear", display: false, min: 0, max: V_MAX },
      },
    },
    plugins: [mainDecor],
  };
}

function macdConfig(): any {
  return {
    type: "line",
    data: {
      datasets: [
        {
          type: "bar", label: "Histogram", order: 3, grouped: false, barThickness: 1,
          data: macdHist.map((v, i) => ({ x: i, y: v })), backgroundColor: "#c8c8c8",
        },
        { label: "Signal", data: pts(signalLine), borderColor: "#0000ff", borderWidth: 1.2, pointRadius: 0, order: 2 },
        { label: "MACD", data: pts(macdLine), borderColor: "#ff0000", borderWidth: 1.2, pointRadius: 0, order: 1 },
      ],
    },
    options: {
      responsive: false,
      animation: false,
      events: [],
      layout: { autoPadding: false, padding: { left: 2, top: 1, right: 0, bottom: 13 } },
      plugins: { legend: { display: false }, tooltip: { enabled: false } },
      scales: {
        x: xAxis(false),
        y: yAxis(M_MIN, M_MAX, 0.5, 34, (v) => v.toFixed(1)),
      },
    },
    plugins: [macdDecor],
  };
}

export default function App() {
  const mainRef = useRef<HTMLCanvasElement>(null);
  const macdRef = useRef<HTMLCanvasElement>(null);
  useEffect(() => {
    if (!mainRef.current || !macdRef.current) return;
    const c1 = new Chart(mainRef.current, mainConfig());
    const c2 = new Chart(macdRef.current, macdConfig());
    return () => {
      c1.destroy();
      c2.destroy();
    };
  }, []);
  return (
    <div style={{ position: "fixed", left: 0, top: 0, width: W, height: 910, background: "#000", overflow: "hidden" }}>
      <canvas ref={mainRef} width={W} height={MAIN_H}
        style={{ position: "absolute", left: 0, top: 0, width: W, height: MAIN_H }} />
      <canvas ref={macdRef} width={W} height={MACD_H}
        style={{ position: "absolute", left: 0, top: MAIN_H, width: W, height: MACD_H }} />
    </div>
  );
}
